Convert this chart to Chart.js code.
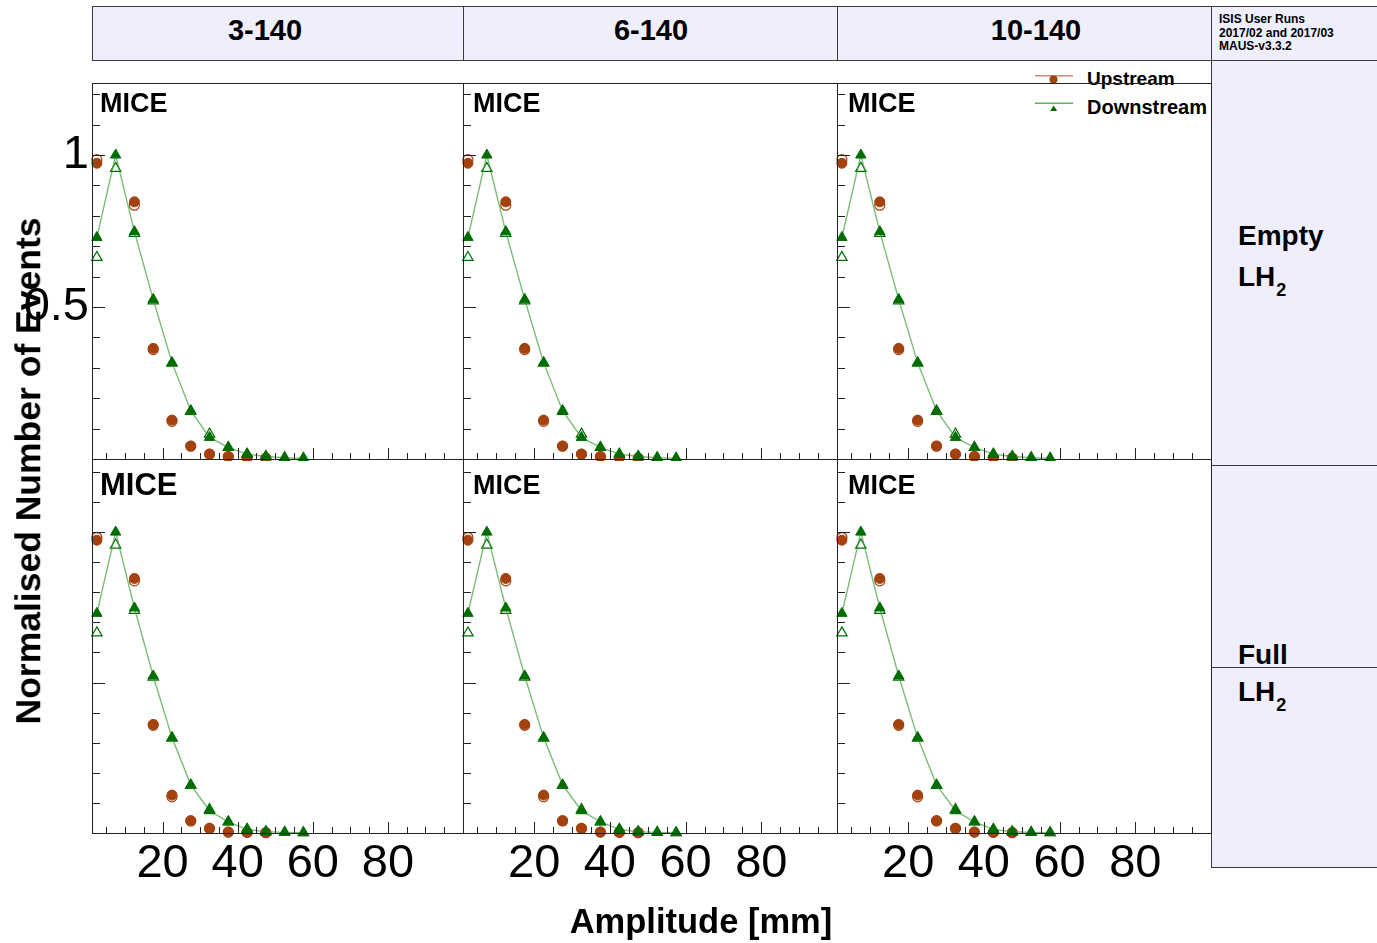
<!DOCTYPE html>
<html><head><meta charset="utf-8">
<script src="https://cdn.jsdelivr.net/npm/chart.js@4.4.0/dist/chart.umd.min.js"></script>
<style>
html,body{margin:0;padding:0;background:#fff;}
body{position:relative;width:1377px;height:943px;overflow:hidden;font-family:"Liberation Sans",Arial,Helvetica,sans-serif;}
.t{position:absolute;font-weight:bold;line-height:1;white-space:nowrap;color:#000;z-index:3;}
.c{text-align:center;}
.cell{position:absolute;box-sizing:border-box;background:#eeeefc;border:1px solid #3a3a3a;}
.hl{position:absolute;height:1px;background:#3a3a3a;}
.panel{position:absolute;z-index:1;}
sub{font-size:18px;vertical-align:baseline;position:relative;top:10px;margin-left:1px;}
</style></head><body>

<!-- header row -->
<div class="cell" style="left:92px;top:6px;width:372px;height:55px;"></div>
<div class="cell" style="left:463px;top:6px;width:375px;height:55px;"></div>
<div class="cell" style="left:837px;top:6px;width:375px;height:55px;"></div>
<div class="cell" style="left:1211px;top:6px;width:172px;height:55px;"></div>
<!-- right column -->
<div class="cell" style="left:1211px;top:60px;width:172px;height:808px;"></div>
<div class="hl" style="left:1211px;top:465px;width:166px;"></div>
<div class="hl" style="left:1211px;top:667px;width:166px;"></div>

<!-- legend markers -->
<svg style="position:absolute;left:1030px;top:62px;z-index:0" width="50" height="56">
  <line x1="5" y1="13.7" x2="43" y2="13.7" stroke="#cc8a6e" stroke-width="1.5"/>
  <circle cx="23.5" cy="17.5" r="4" fill="#a3410f"/>
  <line x1="5" y1="41.3" x2="43" y2="41.3" stroke="#5cb35c" stroke-width="1.5"/>
  <polygon points="23.7,43.5 20.2,49 27.2,49" fill="#006d00"/>
</svg>

<script>
// ---------------- data ----------------
const binCenters = [2.5, 7.5, 12.5, 17.5, 22.5, 27.5, 32.5, 37.5, 42.5, 47.5, 52.5, 57.5];

// Empty LH2 (top row)
const emptyUpstream      = [0.973, null, 0.846, 0.364, 0.128, 0.043, 0.016, 0.008, 0.005, 0.003, null, null];
const emptyUpstreamAlt   = [0.985, null, 0.835, 0.360, 0.124, 0.042, 0.016, 0.008, 0.005, 0.003, null, null];
const emptyDownstream    = [0.729, 1.000, 0.748, 0.525, 0.317, 0.159, 0.071, 0.038, 0.016, 0.008, 0.004, 0.002];
const emptyDownstreamAlt = [0.663, 0.956, 0.742, 0.520, 0.315, 0.157, 0.082, 0.038, 0.016, 0.008, 0.004, 0.002];

// Full LH2 (bottom row)
const fullUpstream      = [0.973, null, 0.846, 0.361, 0.126, 0.041, 0.016, 0.003, 0.002, 0.001, null, null];
const fullUpstreamAlt   = [0.982, null, 0.838, 0.358, 0.120, 0.040, 0.015, 0.003, 0.002, 0.001, null, null];
const fullDownstream    = [0.730, 1.000, 0.748, 0.522, 0.317, 0.160, 0.074, 0.037, 0.012, 0.004, 0.002, 0.001];
const fullDownstreamAlt = [0.665, 0.957, 0.740, 0.518, 0.315, 0.158, 0.078, 0.037, 0.012, 0.004, 0.002, 0.001];

const columnTitles = ['3-140', '6-140', '10-140'];
const seriesNames = ['Upstream', 'Downstream'];
const xTickValues = [20, 40, 60, 80];
const xTickLabels = ['20', '40', '60', '80'];
const yTickValues = [0.5, 1];
const yTickLabels = ['0.5', '1'];

// ---------------- styling ----------------
const FONT = '"Liberation Sans", Arial, Helvetica, sans-serif';
const brown = '#a3410f';
const green = '#006d00';
const lineGreen = 'rgba(50,150,50,0.65)';
const colBox = [[92, 463], [463, 837], [837, 1211]];
const rowBox = [[83, 459], [459, 833]];
const rowYMax = [1.237, 1.243];
const rowSeries = [
  {up: emptyUpstream, upAlt: emptyUpstreamAlt, down: emptyDownstream, downAlt: emptyDownstreamAlt},
  {up: fullUpstream, upAlt: fullUpstreamAlt, down: fullDownstream, downAlt: fullDownstreamAlt}
];

function pts(vals) {
  return binCenters.map((x, i) => ({x: x, y: vals[i]})).filter(p => p.y !== null);
}

const rootFrame = {
  id: 'rootFrame',
  afterDraw(chart) {
    const ctx = chart.ctx, a = chart.chartArea, xs = chart.scales.x, ys = chart.scales.y;
    ctx.save();
    ctx.strokeStyle = '#222';
    ctx.lineWidth = 1;
    ctx.beginPath();
    for (let v = 5; v <= 100; v += 5) {
      const px = Math.round(xs.getPixelForValue(v)) + 0.5;
      if (px < a.left || px > a.right + 1) continue;
      const len = (v % 20 === 0) ? 11 : 6;
      ctx.moveTo(px, a.bottom);
      ctx.lineTo(px, a.bottom - len);
    }
    for (let k = 1; k <= 12; k++) {
      const py = Math.round(ys.getPixelForValue(k / 10)) + 0.5;
      if (py < a.top) continue;
      const len = (k % 5 === 0) ? 13 : 8;
      ctx.moveTo(a.left, py);
      ctx.lineTo(a.left + len, py);
    }
    ctx.stroke();
    ctx.strokeRect(Math.round(a.left) + 0.5, Math.round(a.top) + 0.5,
                   Math.round(a.right - a.left), Math.round(a.bottom - a.top));
    ctx.restore();
  }
};

function makePanel(c, r) {
  const [x0, x1] = colBox[c], [y0, y1] = rowBox[r];
  const left = c === 0 ? 0 : x0 - 2;
  const top = y0 - 2;
  const right = x1 + 2;
  const bottom = r === 1 ? 943 : y1 + 2;
  const s = rowSeries[r];
  const div = document.createElement('div');
  div.className = 'panel';
  div.style.left = left + 'px'; div.style.top = top + 'px';
  div.style.width = (right - left) + 'px'; div.style.height = (bottom - top) + 'px';
  const cv = document.createElement('canvas');
  cv.width = right - left; cv.height = bottom - top;
  cv.style.display = 'block';
  div.appendChild(cv);
  document.body.appendChild(div);
  const showX = r === 1, showY = c === 0;

  new Chart(cv, {
    type: 'scatter',
    data: {datasets: [
      {label: seriesNames[1], data: pts(s.down), showLine: true, borderColor: lineGreen, borderWidth: 1.4,
       pointStyle: 'triangle', pointRadius: 6, pointBackgroundColor: green, pointBorderColor: green,
       pointBorderWidth: 1, tension: 0, clip: false},
      {label: seriesNames[1] + ' (open)', data: pts(s.downAlt), showLine: false,
       pointStyle: 'triangle', pointRadius: 6, pointBackgroundColor: 'rgba(0,0,0,0)', pointBorderColor: green,
       pointBorderWidth: 1.2, clip: false},
      {label: seriesNames[0], data: pts(s.up), showLine: false,
       pointStyle: 'circle', pointRadius: 5, pointBackgroundColor: brown, pointBorderColor: brown,
       pointBorderWidth: 1, clip: false},
      {label: seriesNames[0] + ' (open)', data: pts(s.upAlt), showLine: false,
       pointStyle: 'circle', pointRadius: 5, pointBackgroundColor: 'rgba(0,0,0,0)', pointBorderColor: brown,
       pointBorderWidth: 1.2, clip: false}
    ]},
    options: {
      responsive: false, animation: false, events: [],
      layout: {autoPadding: false, padding: {left: c === 0 ? 0 : 2, right: 2, top: 2, bottom: r === 1 ? 0 : 2}},
      plugins: {legend: {display: false}, tooltip: {enabled: false}},
      scales: {
        x: {
          type: 'linear', min: 1.2, max: 100, display: showX,
          grid: {display: false, drawTicks: false}, border: {display: false},
          afterBuildTicks: sc => { sc.ticks = xTickValues.map(v => ({value: v})); },
          afterFit: sc => { if (showX) { sc.height = 110; } sc.paddingLeft = 0; sc.paddingRight = 0; },
          ticks: {autoSkip: false, maxRotation: 0, minRotation: 0, padding: 3, color: '#000',
                  font: {family: FONT, size: 47},
                  callback: v => { const i = xTickValues.indexOf(v); return i >= 0 ? xTickLabels[i] : ''; }}
        },
        y: {
          type: 'linear', min: 0, max: rowYMax[r], display: showY,
          grid: {display: false, drawTicks: false}, border: {display: false},
          afterBuildTicks: sc => { sc.ticks = yTickValues.map(v => ({value: v})); },
          afterFit: sc => { if (showY) { sc.width = 92; } sc.paddingTop = 0; sc.paddingBottom = 0; },
          ticks: {display: r === 0, autoSkip: false, padding: 3, color: '#000',
                  font: {family: FONT, size: 47},
                  callback: v => { const i = yTickValues.indexOf(v); return i >= 0 ? yTickLabels[i] : ''; }}
        }
      }
    },
    plugins: [rootFrame]
  });
}

for (let r = 0; r < 2; r++) for (let c = 0; c < 3; c++) makePanel(c, r);

// ---------------- texts ----------------
function addText(html, style, cls) {
  const d = document.createElement('div');
  d.className = 't' + (cls ? ' ' + cls : '');
  d.innerHTML = html;
  d.setAttribute('style', style);
  document.body.appendChild(d);
  return d;
}
const headerCenters = [265, 651, 1036];
columnTitles.forEach((t, i) => addText(t, `left:${headerCenters[i] - 100}px;top:15.5px;width:200px;font-size:29px;`, 'c'));
addText('ISIS User Runs', 'left:1219px;top:13px;font-size:12px;');
addText('2017/02 and 2017/03', 'left:1219px;top:27px;font-size:12px;');
addText('MAUS-v3.3.2', 'left:1219px;top:40px;font-size:12px;');

addText('Empty', 'left:1238px;top:222px;font-size:28px;');
addText('LH<sub>2</sub>', 'left:1238px;top:263px;font-size:28px;');
addText('Full', 'left:1238px;top:641px;font-size:28px;');
addText('LH<sub>2</sub>', 'left:1238px;top:678px;font-size:28px;');

const miceX = [100, 473, 848];
miceX.forEach((x, i) => addText('MICE', `left:${x}px;top:89.8px;font-size:27px;`));
addText('MICE', 'left:100px;top:469px;font-size:31px;');
addText('MICE', 'left:473px;top:471.5px;font-size:27px;');
addText('MICE', 'left:848px;top:471.5px;font-size:27px;');

addText(seriesNames[0], 'left:1087px;top:69px;font-size:19px;z-index:0;');
addText(seriesNames[1], 'left:1087px;top:97px;font-size:20px;z-index:0;');

addText('Amplitude [mm]', 'left:401px;top:904px;width:600px;font-size:34.5px;', 'c');
addText('Normalised Number of Events',
  'left:29px;top:471px;width:620px;font-size:35.5px;transform:translate(-50%,-50%) rotate(-90deg);', 'c');
</script>
</body></html>
